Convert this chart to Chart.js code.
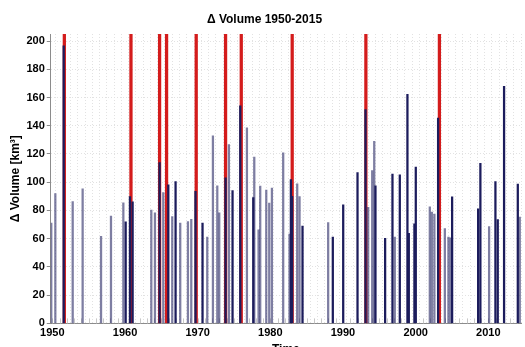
<!DOCTYPE html>
<html>
<head>
<meta charset="utf-8">
<title>Volume 1950-2015</title>
<script src="https://cdn.jsdelivr.net/npm/chart.js@4"></script>
<style>
  html, body { margin: 0; padding: 0; background: #fff; overflow: hidden; }
  .wrap { width: 525px; height: 359px; }
</style>
</head>
<body>
<div class="wrap"><canvas id="volChart"></canvas></div>
<script>
// events larger than the axis range (drawn red, clipped at the top)
const exceedYears = [1951.65, 1960.82, 1964.76, 1965.72, 1969.8, 1973.84, 1976.0, 1983.01, 1993.15, 2003.27];
const exceedVals  = [250, 250, 250, 250, 250, 250, 250, 250, 250, 250];

// group A events
const groupAYears = [1951.56, 1960.09, 1960.68, 1961.05, 1964.76, 1965.96, 1966.96, 1969.7, 1970.67, 1973.84,
                     1974.8, 1975.86, 1977.65, 1982.83, 1983.0, 1984.43, 1988.6, 1990.03, 1992.0, 1993.1,
                     1994.47, 1995.8, 1996.81, 1997.82, 1998.87, 1999.06, 1999.83, 2000.02, 2003.09, 2005.02,
                     2008.6, 2008.91, 2010.98, 2011.3, 2012.17, 2014.06];
const groupAVals  = [196.7, 71.9, 89.9, 86.1, 113.9, 98.2, 100.4, 93.5, 71, 103.2,
                     94, 154.2, 89.2, 101.8, 90, 69, 61.2, 84, 106.8, 151.4,
                     97.5, 60.3, 105.8, 105.3, 162.3, 63.8, 70.5, 110.8, 145.4, 89.7,
                     81.1, 113.4, 100.4, 73.5, 168, 98.7];

// group B events
const groupBYears = [1949.85, 1950.41, 1952.8, 1954.17, 1956.7, 1958.07, 1959.77, 1963.62, 1964.12, 1965.27,
                     1966.5, 1967.6, 1968.66, 1969.12, 1971.32, 1972.1, 1972.7, 1972.97, 1974.3, 1976.78,
                     1977.79, 1978.38, 1978.61, 1979.44, 1979.85, 1980.22, 1981.77, 1982.64, 1983.7, 1984.02,
                     1987.96, 1993.47, 1994.02, 1994.3, 1997.13, 2001.95, 2002.23, 2002.58, 2004.02, 2004.51,
                     2004.79, 2010.11, 2014.33];
const groupBVals  = [71, 92, 86.3, 95.4, 61.7, 76, 85.4, 80.2, 78.3, 92.7,
                     75.7, 71, 72.1, 73.8, 61.2, 132.9, 97.5, 78.3, 126.7, 138.6,
                     117.9, 66.2, 97.3, 94.4, 85.2, 95.9, 120.8, 63.3, 98.9, 89.9,
                     71.4, 82.3, 108.2, 129, 61.2, 82.6, 78.8, 77.4, 67.1, 61.2,
                     60.7, 68.5, 75.4];

// ticks
const yearTicks = [];
for (let y = 1950; y <= 2014; y++) yearTicks.push(y);
const decadeLabels = [1950, 1960, 1970, 1980, 1990, 2000, 2010];
const volumeTicks = [0, 20, 40, 60, 80, 100, 120, 140, 160, 180, 200];

const toPoints = (xs, ys) => xs.map((x, i) => ({ x: x, y: ys[i] }));

// small tick marks along the bottom, inside the plot
const minorTicks = {
  id: 'minorTicks',
  beforeDatasetsDraw(chart) {
    const { ctx, chartArea, scales } = chart;
    ctx.save();
    ctx.strokeStyle = '#c8c8c8';
    ctx.lineWidth = 1;
    yearTicks.forEach(yr => {
      const px = Math.round(scales.x.getPixelForValue(yr)) + 0.5;
      ctx.beginPath();
      ctx.moveTo(px, chartArea.bottom);
      ctx.lineTo(px, chartArea.bottom - 5);
      ctx.stroke();
    });
    ctx.restore();
  }
};

const boldFont = { family: '"Liberation Sans", Arial, sans-serif', size: 11, weight: 'bold' };

new Chart(document.getElementById('volChart'), {
  type: 'bar',
  data: {
    datasets: [{
      label: 'group A',
      data: toPoints(groupAYears, groupAVals),
      backgroundColor: '#1c1c5c',
      barThickness: 1.6,
      grouped: false,
      order: 1
    }, {
      label: 'group B',
      data: toPoints(groupBYears, groupBVals),
      backgroundColor: 'rgba(40, 40, 100, 0.6)',
      barThickness: 1.6,
      grouped: false,
      order: 2
    }, {
      label: 'exceed',
      data: toPoints(exceedYears, exceedVals),
      backgroundColor: '#d41c1c',
      barThickness: 2.6,
      grouped: false,
      order: 3
    }]
  },
  options: {
    responsive: true,
    maintainAspectRatio: false,
    animation: false,
    layout: { padding: { left: 8, right: 4, top: 0, bottom: 0 } },
    plugins: {
      legend: { display: false },
      tooltip: { enabled: false },
      title: {
        display: true,
        text: '\u0394 Volume 1950-2015',
        color: '#000',
        font: { family: boldFont.family, size: 12, weight: 'bold' },
        padding: { top: 12, bottom: 7.6 }
      }
    },
    scales: {
      x: {
        type: 'linear',
        min: 1949.78,
        max: 2014.5,
        offset: false,
        afterBuildTicks: axis => { axis.ticks = yearTicks.map(v => ({ value: v })); },
        ticks: {
          autoSkip: false,
          maxRotation: 0,
          color: '#000',
          font: boldFont,
          padding: 3,
          callback: v => decadeLabels.includes(v) ? String(v) : ''
        },
        grid: { color: '#e2e2e2', drawTicks: false },
        border: { color: '#8c8c8c', dash: [1, 2] },
        title: {
          display: true,
          text: 'Time',
          color: '#000',
          font: { family: boldFont.family, size: 12, weight: 'bold' },
          padding: { top: 0, bottom: 2 }
        }
      },
      y: {
        min: 0,
        max: 205,
        afterBuildTicks: axis => { axis.ticks = volumeTicks.map(v => ({ value: v })); },
        ticks: { color: '#000', font: boldFont, padding: 2 },
        grid: { color: '#e2e2e2', tickColor: '#8c8c8c', tickLength: 4, tickBorderDash: [] },
        border: { color: '#8c8c8c', dash: [1, 2] },
        title: {
          display: true,
          text: '\u0394 Volume [km\u00b3]',
          color: '#000',
          font: { family: boldFont.family, size: 12, weight: 'bold' },
          padding: { top: 0, bottom: 2 }
        }
      }
    }
  },
  plugins: [minorTicks]
});
</script>
</body>
</html>
